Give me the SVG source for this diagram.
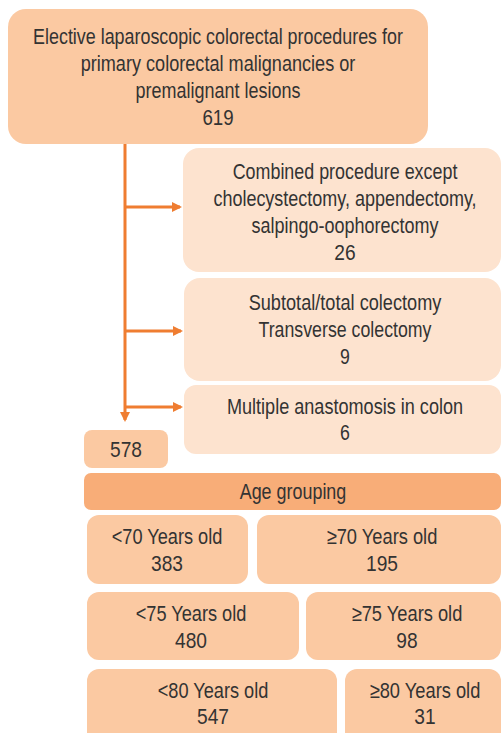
<svg xmlns="http://www.w3.org/2000/svg" width="501" height="733" viewBox="0 0 501 733">
<style>
.t{font-family:"Liberation Sans",Arial,sans-serif;font-size:22px;fill:#333;text-anchor:middle}
.mid{fill:#FBC9A2}
.light{fill:#FDE3CF}
.dark{fill:#F8AD78}
.c{stroke:#EF7D31;stroke-width:3;fill:none}
</style>
<defs>
<marker id="ah" markerWidth="10" markerHeight="10" refX="8" refY="5" orient="auto" markerUnits="userSpaceOnUse">
<path d="M0,0 L10,5 L0,10 Z" fill="#EF7D31"/>
</marker>
</defs>
<g id="connectors">
<path class="c" d="M125,144 V420" marker-end="url(#ah)"/>
<path class="c" d="M125,207 H180" marker-end="url(#ah)"/>
<path class="c" d="M125,331 H181" marker-end="url(#ah)"/>
<path class="c" d="M125,407 H181" marker-end="url(#ah)"/>
</g>
<g id="n_start">
<rect class="mid" x="8" y="9" width="420" height="135" rx="18"/>
<g transform="translate(218 0) scale(0.82 1)">
<text class="t" x="0" y="44" textLength="451" lengthAdjust="spacingAndGlyphs">Elective laparoscopic colorectal procedures for</text>
<text class="t" x="0" y="71" textLength="335" lengthAdjust="spacingAndGlyphs">primary colorectal malignancies or</text>
<text class="t" x="0" y="98" textLength="201" lengthAdjust="spacingAndGlyphs">premalignant lesions</text>
<text class="t" x="0" y="125" textLength="38" lengthAdjust="spacingAndGlyphs">619</text>
</g>
</g>
<g id="n_combined">
<rect class="light" x="183" y="148" width="318" height="124" rx="16"/>
<g transform="translate(345 0) scale(0.82 1)">
<text class="t" x="0" y="179" textLength="274" lengthAdjust="spacingAndGlyphs">Combined procedure except</text>
<text class="t" x="0" y="206" textLength="321" lengthAdjust="spacingAndGlyphs">cholecystectomy, appendectomy,</text>
<text class="t" x="0" y="233" textLength="228" lengthAdjust="spacingAndGlyphs">salpingo-oophorectomy</text>
<text class="t" x="0" y="260" textLength="26" lengthAdjust="spacingAndGlyphs">26</text>
</g>
</g>
<g id="n_subtotal">
<rect class="light" x="184" y="278" width="317" height="103" rx="16"/>
<g transform="translate(345 0) scale(0.82 1)">
<text class="t" x="0" y="310" textLength="235" lengthAdjust="spacingAndGlyphs">Subtotal/total colectomy</text>
<text class="t" x="0" y="337" textLength="211" lengthAdjust="spacingAndGlyphs">Transverse colectomy</text>
<text class="t" x="0" y="364" textLength="12" lengthAdjust="spacingAndGlyphs">9</text>
</g>
</g>
<g id="n_multiple">
<rect class="light" x="184" y="385" width="317" height="69" rx="12"/>
<g transform="translate(345 0) scale(0.82 1)">
<text class="t" x="0" y="414" textLength="288" lengthAdjust="spacingAndGlyphs">Multiple anastomosis in colon</text>
<text class="t" x="0" y="440" textLength="12" lengthAdjust="spacingAndGlyphs">6</text>
</g>
</g>
<g id="n_578">
<rect class="mid" x="84" y="430" width="84" height="38" rx="8"/>
<g transform="translate(126 0) scale(0.82 1)">
<text class="t" x="0" y="457" textLength="39" lengthAdjust="spacingAndGlyphs">578</text>
</g>
</g>
<g id="n_age">
<rect class="dark" x="84" y="473" width="417" height="37" rx="7"/>
<g transform="translate(293 0) scale(0.82 1)">
<text class="t" x="0" y="499" textLength="130" lengthAdjust="spacingAndGlyphs">Age grouping</text>
</g>
</g>
<g id="n_lt70">
<rect class="mid" x="87" y="515" width="161" height="69" rx="12"/>
<g transform="translate(167 0) scale(0.82 1)">
<text class="t" x="0" y="544" textLength="135" lengthAdjust="spacingAndGlyphs">&lt;70 Years old</text>
<text class="t" x="0" y="571" textLength="39" lengthAdjust="spacingAndGlyphs">383</text>
</g>
</g>
<g id="n_ge70">
<rect class="mid" x="257" y="515" width="244" height="69" rx="12"/>
<g transform="translate(382 0) scale(0.82 1)">
<text class="t" x="0" y="544" textLength="135" lengthAdjust="spacingAndGlyphs">≥70 Years old</text>
<text class="t" x="0" y="571" textLength="39" lengthAdjust="spacingAndGlyphs">195</text>
</g>
</g>
<g id="n_lt75">
<rect class="mid" x="87" y="592" width="212" height="68" rx="12"/>
<g transform="translate(191 0) scale(0.82 1)">
<text class="t" x="0" y="621" textLength="135" lengthAdjust="spacingAndGlyphs">&lt;75 Years old</text>
<text class="t" x="0" y="648" textLength="39" lengthAdjust="spacingAndGlyphs">480</text>
</g>
</g>
<g id="n_ge75">
<rect class="mid" x="306" y="592" width="195" height="68" rx="12"/>
<g transform="translate(407 0) scale(0.82 1)">
<text class="t" x="0" y="621" textLength="135" lengthAdjust="spacingAndGlyphs">≥75 Years old</text>
<text class="t" x="0" y="648" textLength="26" lengthAdjust="spacingAndGlyphs">98</text>
</g>
</g>
<g id="n_lt80">
<rect class="mid" x="87" y="669" width="250" height="80" rx="12"/>
<g transform="translate(213 0) scale(0.82 1)">
<text class="t" x="0" y="698" textLength="135" lengthAdjust="spacingAndGlyphs">&lt;80 Years old</text>
<text class="t" x="0" y="724" textLength="39" lengthAdjust="spacingAndGlyphs">547</text>
</g>
</g>
<g id="n_ge80">
<rect class="mid" x="345" y="669" width="156" height="80" rx="12"/>
<g transform="translate(425 0) scale(0.82 1)">
<text class="t" x="0" y="698" textLength="135" lengthAdjust="spacingAndGlyphs">≥80 Years old</text>
<text class="t" x="0" y="724" textLength="26" lengthAdjust="spacingAndGlyphs">31</text>
</g>
</g>
</svg>
